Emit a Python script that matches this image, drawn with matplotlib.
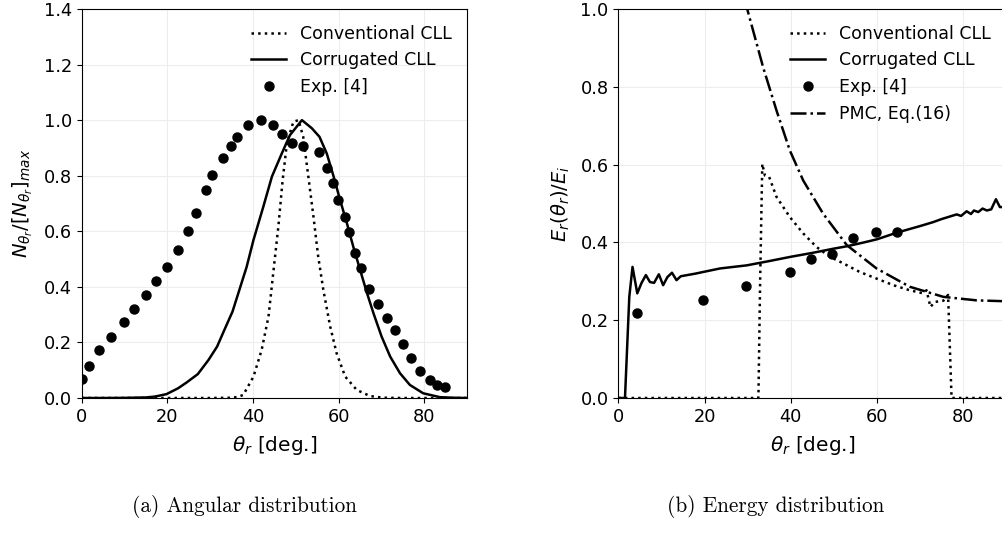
import numpy as np
import matplotlib.pyplot as plt

# (a) angular distribution
exp_a_theta = [0.0, 1.6, 4.1, 6.9, 9.95, 12.3, 14.9, 17.3, 19.8, 22.4, 24.7, 26.7, 29.0, 30.5,
               33.0, 34.8, 36.2, 38.7, 41.8, 44.6, 46.8, 49.1, 51.7, 55.3, 57.3, 58.7, 59.9,
               61.4, 62.5, 63.9, 65.2, 67.1, 69.2, 71.2, 73.2, 74.9, 76.9, 79.0, 81.3, 83.0, 84.8]
exp_a_val = [0.067, 0.115, 0.173, 0.22, 0.273, 0.319, 0.369, 0.422, 0.472, 0.533, 0.602, 0.667,
             0.748, 0.802, 0.862, 0.907, 0.938, 0.981, 1.0, 0.981, 0.949, 0.919, 0.908, 0.886,
             0.829, 0.773, 0.713, 0.652, 0.597, 0.521, 0.469, 0.393, 0.338, 0.289, 0.245, 0.194,
             0.143, 0.098, 0.065, 0.047, 0.041]

corr_a_theta = [0, 5, 10, 15, 17, 18, 19.8, 22.5, 24.5, 27.1, 29.6, 31.6, 33.3, 35.2, 36.8, 38.5,
                40.1, 42.4, 44.4, 46.7, 48.6, 51.4, 53.7, 55.5, 57.2, 58.8, 60.3, 61.9, 63.4,
                65.0, 66.6, 68.1, 70.0, 72.0, 74.3, 76.6, 79.7, 83.6, 86.5, 90]
corr_a_val = [0, 0, 0.0005, 0.002, 0.005, 0.008, 0.014, 0.035, 0.056, 0.086, 0.137, 0.185, 0.245,
              0.311, 0.389, 0.472, 0.569, 0.689, 0.797, 0.88, 0.946, 1.0, 0.971, 0.94, 0.88,
              0.797, 0.713, 0.629, 0.544, 0.46, 0.377, 0.305, 0.221, 0.149, 0.089, 0.047, 0.017,
              0.003, 0.001, 0]

conv_a_theta = [0, 10, 20, 30, 35, 36.5, 37.7, 40.1, 42.0, 43.6, 44.7, 45.9, 46.9, 47.9, 49.4,
                50.6, 51.7, 52.9, 54.1, 55.2, 56.4, 58.0, 59.5, 61.5, 64.2, 67.3, 70.4, 75, 80, 90]
conv_a_val = [0, 0, 0, 0, 0.001, 0.004, 0.011, 0.077, 0.173, 0.293, 0.449, 0.617, 0.784, 0.917,
              0.994, 1.0, 0.94, 0.797, 0.652, 0.509, 0.389, 0.257, 0.161, 0.077, 0.029, 0.007,
              0.001, 0, 0, 0]

# (b) energy distribution
exp_b_theta = [4.3, 19.7, 29.7, 39.8, 44.8, 49.6, 54.5, 59.8, 64.6]
exp_b_val = [0.219, 0.251, 0.287, 0.323, 0.357, 0.37, 0.412, 0.428, 0.428]

corr_b_theta = [0, 1.55, 2.55, 3.3, 4.4, 5.4, 6.4, 7.35, 8.3, 9.4, 10.4, 11.4, 12.45, 13.5, 14.5,
                16, 18, 19.7, 23.6, 29.8, 35, 40, 45, 50, 53, 57, 60, 64.6, 70, 73, 75, 78.5,
                79.5, 80.8, 81.8, 82.5, 83.5, 84.5, 85.5, 86.5, 87.6, 88.5, 90]
corr_b_val = [0, 0, 0.26, 0.337, 0.269, 0.296, 0.316, 0.298, 0.296, 0.318, 0.29, 0.311, 0.322,
              0.303, 0.313, 0.316, 0.32, 0.324, 0.333, 0.341, 0.352, 0.363, 0.373, 0.384, 0.39,
              0.4, 0.408, 0.425, 0.442, 0.452, 0.46, 0.472, 0.468, 0.48, 0.473, 0.482, 0.478,
              0.487, 0.482, 0.485, 0.511, 0.491, 0.49]

conv_b_theta = [0, 10, 20, 30, 32.5, 32.9, 33.4, 34.0, 35.0, 36.7, 39.8, 42.9, 46.0, 49.1, 52.2,
                56.0, 59.9, 63.8, 67.6, 70.7, 71.5, 72.4, 73.4, 75.4, 76.5, 77.3, 80, 85, 90]
conv_b_val = [0, 0, 0, 0, 0, 0.3, 0.602, 0.572, 0.568, 0.517, 0.465, 0.423, 0.388, 0.363, 0.346,
              0.324, 0.307, 0.29, 0.277, 0.269, 0.277, 0.234, 0.247, 0.25, 0.265, 0, 0, 0, 0]

pmc_theta = [24, 26, 28, 29.9, 33.6, 36.7, 39.8, 42.9, 47.5, 53.0, 59.9, 67.6, 75.4, 83.1, 89, 90]
pmc_val = [1.32, 1.2, 1.09, 1.0, 0.85, 0.739, 0.636, 0.559, 0.474, 0.393, 0.333, 0.286, 0.26,
           0.251, 0.249, 0.249]

W, H = 1002, 536
fig = plt.figure(figsize=(W / 100, H / 100), dpi=100)
ax1 = fig.add_axes([81.7 / W, 138 / H, 385.6 / W, 389 / H])
ax2 = fig.add_axes([618.3 / W, 138 / H, 388 / W, 389 / H])

ax1.plot(conv_a_theta, conv_a_val, color="black", linestyle=":", lw=1.8, label="Conventional CLL")
ax1.plot(corr_a_theta, corr_a_val, color="black", linestyle="-", lw=1.8, label="Corrugated CLL")
ax1.plot(exp_a_theta, exp_a_val, "o", color="black", ms=6.5, label="Exp. [4]")
ax1.set_xlim(0, 90)
ax1.set_ylim(0, 1.4)
ax1.set_yticks(np.arange(0, 1.41, 0.2))
ax1.set_ylabel(r"$N_{\theta_r}/[N_{\theta_r}]_{max}$", fontsize=14, labelpad=6)

ax2.plot(conv_b_theta, conv_b_val, color="black", linestyle=":", lw=1.8, label="Conventional CLL")
ax2.plot(corr_b_theta, corr_b_val, color="black", linestyle="-", lw=1.8, label="Corrugated CLL")
ax2.plot(exp_b_theta, exp_b_val, "o", color="black", ms=6.5, label="Exp. [4]")
ax2.plot(pmc_theta, pmc_val, color="black", linestyle="-.", lw=1.8, label="PMC, Eq.(16)")
ax2.set_xlim(0, 90)
ax2.set_ylim(0, 1.0)
ax2.set_ylabel(r"$E_r(\theta_r)/E_i$", fontsize=14, labelpad=6)

for ax in (ax1, ax2):
    ax.set_xticks([0, 20, 40, 60, 80])
    ax.set_xlabel(r"$\theta_r$ [deg.]", fontsize=14.5, labelpad=6)
    ax.tick_params(axis="both", which="major", labelsize=12.8)
    ax.grid(color="0.93", linewidth=0.8)
    ax.set_axisbelow(True)
    ax.legend(loc="upper right", frameon=False, fontsize=12.5)

fig.text(244.7 / W, 1 - 507 / H, "(a) Angular distribution", family="cmr10",
         fontsize=15.3, ha="center", va="center")
fig.text(776 / W, 1 - 507 / H, "(b) Energy distribution", family="cmr10",
         fontsize=15.3, ha="center", va="center")

plt.savefig("out.png", dpi=100)
